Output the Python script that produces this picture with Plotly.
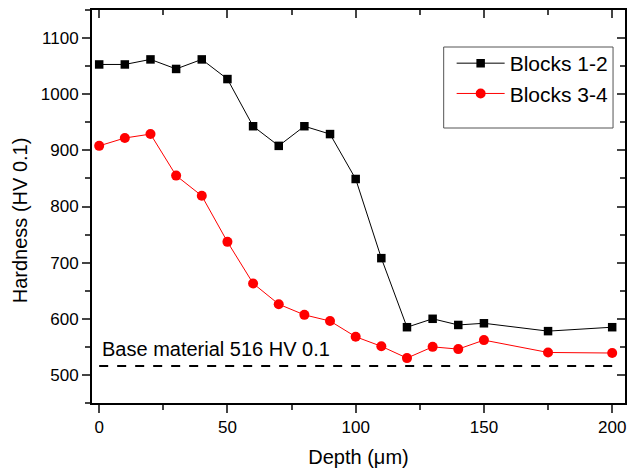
import plotly.graph_objects as go

depth = [0, 10, 20, 30, 40, 50, 60, 70, 80, 90, 100, 110, 120, 130, 140, 150, 175, 200]
blocks_12 = [1053, 1053, 1062, 1045, 1062, 1027, 943, 908, 943, 929, 849, 708, 585, 600, 589, 592, 578, 585]
blocks_34 = [908, 922, 929, 855, 819, 737, 663, 626, 607, 596, 568, 551, 530, 550, 546, 562, 540, 539]
base_value = 516
base_x = [0, 200]
x_ticks = [0, 50, 100, 150, 200]
y_ticks = [500, 600, 700, 800, 900, 1000, 1100]

FONT = "Arial, Liberation Sans, sans-serif"

fig = go.Figure()
fig.add_trace(go.Scatter(
    x=depth, y=blocks_12, name="Blocks 1-2", mode="lines+markers",
    line=dict(color="#000000", width=1),
    marker=dict(symbol="square", size=8.5, color="#000000"),
))
fig.add_trace(go.Scatter(
    x=depth, y=blocks_34, name="Blocks 3-4", mode="lines+markers",
    line=dict(color="#ff0000", width=1),
    marker=dict(symbol="circle", size=10, color="#ff0000"),
))
fig.add_trace(go.Scatter(
    x=base_x, y=[base_value] * len(base_x), mode="lines", showlegend=False,
    line=dict(color="#000000", width=2, dash="dash"), hoverinfo="skip",
))
# invisible trace so mirrored axes render
fig.add_trace(go.Scatter(x=base_x, y=[base_value] * 2, xaxis="x2", yaxis="y2",
                         mode="lines", line=dict(width=0), showlegend=False, hoverinfo="skip"))

xr = [-2.8, 205]
yr = [450, 1150]

fig.update_layout(
    width=630, height=470,
    margin=dict(l=92, r=3, t=10, b=67),
    paper_bgcolor="white", plot_bgcolor="white",
    font=dict(family=FONT, color="#000000", size=16),
    xaxis=dict(
        range=xr, tickvals=x_ticks, ticks="outside", ticklen=8, tickwidth=1.5,
        showline=True, linewidth=2, linecolor="#000000", mirror=True,
        showgrid=False, zeroline=False,
        minor=dict(ticks="outside", ticklen=5, dtick=25, tick0=0, tickwidth=1.5, showgrid=False),
        tickfont=dict(size=17),
        title=dict(text="Depth (μm)", font=dict(size=20), standoff=14),
    ),
    yaxis=dict(
        range=yr, tickvals=y_ticks, ticks="outside", ticklen=8, tickwidth=1.5,
        showline=True, linewidth=2, linecolor="#000000", mirror=True,
        showgrid=False, zeroline=False,
        minor=dict(ticks="outside", ticklen=5, dtick=50, tick0=0, tickwidth=1.5, showgrid=False),
        tickfont=dict(size=17),
    ),
    xaxis2=dict(
        range=xr, overlaying="x", side="top", anchor="y", tickvals=x_ticks,
        ticks="inside", ticklen=8, tickwidth=1.5, showticklabels=False,
        showline=False, showgrid=False, zeroline=False,
        minor=dict(ticks="inside", ticklen=5, dtick=25, tick0=0, tickwidth=1.5, showgrid=False),
    ),
    yaxis2=dict(
        range=yr, overlaying="y", side="right", anchor="x", tickvals=y_ticks,
        ticks="inside", ticklen=8, tickwidth=1.5, showticklabels=False,
        showline=False, showgrid=False, zeroline=False,
        minor=dict(ticks="inside", ticklen=5, dtick=50, tick0=0, tickwidth=1.5, showgrid=False),
    ),
    legend=dict(
        x=(453 - 92) / 535, y=0.916, xanchor="left", yanchor="top",
        bgcolor="rgba(0,0,0,0)", borderwidth=0,
        font=dict(size=21), tracegroupgap=0, itemwidth=48,
    ),
    showlegend=True,
    shapes=[dict(type="rect", xref="paper", yref="paper",
                 x0=(445 - 92) / 535, x1=(615 - 92) / 535,
                 y0=1 - (128 - 10) / 393, y1=1 - (47 - 10) / 393,
                 line=dict(color="#555555", width=1))],
    annotations=[
        dict(x=0.3, y=base_value, xref="x", yref="y", xanchor="left", yanchor="bottom",
             yshift=4, text="Base material 516 HV 0.1", showarrow=False,
             font=dict(size=20, color="#000000")),
        dict(x=(20 - 92) / 535, y=1 - (220 - 10) / 393, xref="paper", yref="paper",
             xanchor="center", yanchor="middle", textangle=-90,
             text="Hardness (HV 0.1)", showarrow=False,
             font=dict(size=20, color="#000000")),
    ],
)

fig.write_html("out.html", config={"displayModeBar": False},
               post_script="document.body.style.margin='0';")
